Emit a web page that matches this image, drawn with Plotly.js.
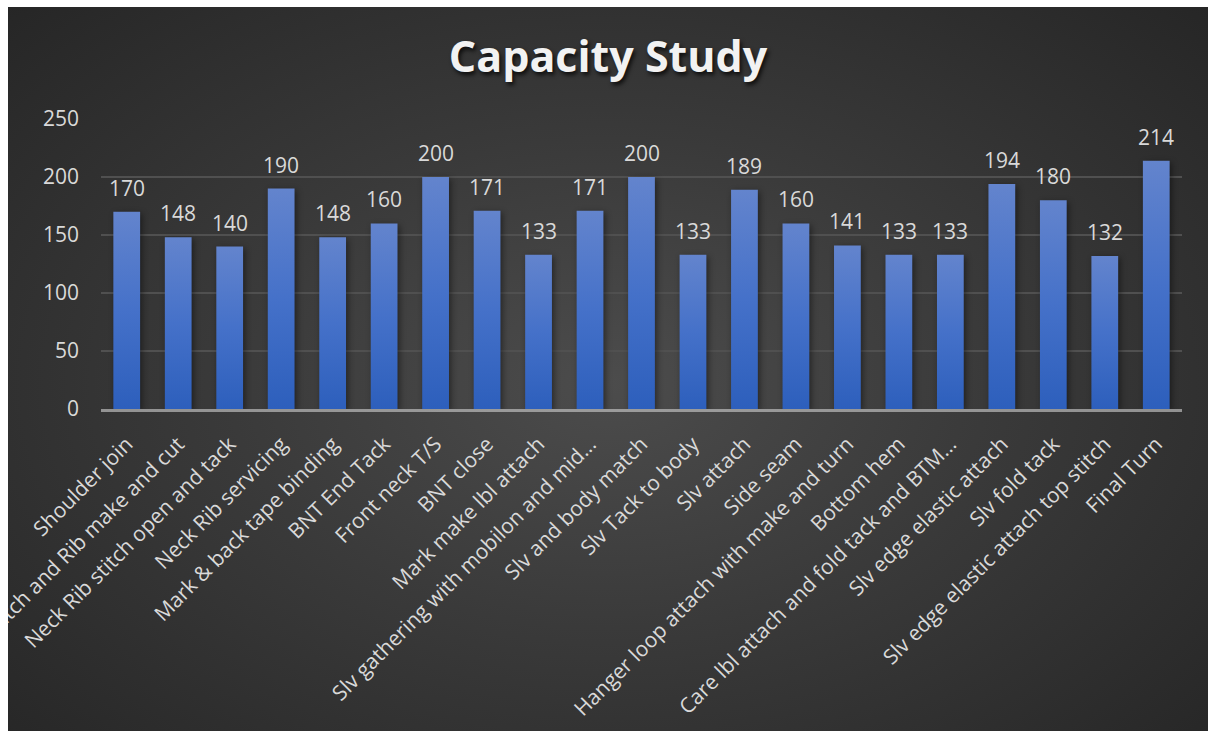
<!DOCTYPE html>
<html>
<head>
<meta charset="utf-8">
<script src="https://cdn.plot.ly/plotly-3.0.1.min.js"></script>
<style>
  html, body { margin: 0; padding: 0; background: #ffffff; width: 1209px; height: 732px; overflow: hidden; }
  #chart {
    position: absolute; left: 8px; top: 7px; width: 1200px; height: 724px;
    background: radial-gradient(ellipse 70% 75% at 50% 52%, #4c4c4c 0%, #3a3a3a 45%, #262626 100%);
  }
  /* vertical blue gradient and soft shadow on each column */
  #chart .barlayer .point path {
    fill: url(#barGrad) !important;
    filter: drop-shadow(2px 2px 3px rgba(0,0,0,0.45));
  }
  #defs { position: absolute; width: 0; height: 0; }
</style>
</head>
<body>
<svg id="defs" width="0" height="0">
  <defs>
    <linearGradient id="barGrad" x1="0" y1="0" x2="0" y2="1">
      <stop offset="0" stop-color="#6384cd"/>
      <stop offset="0.5" stop-color="#4571c9"/>
      <stop offset="1" stop-color="#2d5fbc"/>
    </linearGradient>
  </defs>
</svg>
<div id="chart"></div>
<script>
const operations = [
  "Shoulder join",
  "Neck patch and Rib make and cut",
  "Neck Rib stitch open and tack",
  "Neck Rib servicing",
  "Mark & back tape binding",
  "BNT End Tack",
  "Front neck T/S",
  "BNT close",
  "Mark make lbl attach",
  "Slv gathering with mobilon and mid...",
  "Slv and body match",
  "Slv Tack to body",
  "Slv attach",
  "Side seam",
  "Hanger loop attach with make and turn",
  "Bottom hem",
  "Care lbl attach and fold tack and BTM...",
  "Slv edge elastic attach",
  "Slv fold tack",
  "Slv edge elastic attach top stitch",
  "Final Turn"
];
const capacity = [170, 148, 140, 190, 148, 160, 200, 171, 133, 171, 200, 133, 189, 160, 141, 133, 133, 194, 180, 132, 214];
const yTicks = [0, 50, 100, 150, 200, 250];

const textColor = "#d9d9d9";
const fontFamily = "'Open Sans', 'Noto Sans', sans-serif";

const trace = {
  type: "bar",
  x: operations,
  y: capacity,
  marker: { color: "#4472c4", line: { width: 0 } },
  hoverinfo: "x+y"
};

const valueLabels = operations.map((op, i) => ({
  x: op,
  y: capacity[i],
  text: String(capacity[i]),
  showarrow: false,
  xanchor: "center",
  yanchor: "bottom",
  yshift: 8,
  font: { family: fontFamily, size: 21, color: textColor }
}));

const layout = {
  width: 1200,
  height: 724,
  paper_bgcolor: "rgba(0,0,0,0)",
  plot_bgcolor: "rgba(0,0,0,0)",
  margin: { l: 93, r: 26, t: 111.5, b: 321.5 },
  bargap: 0.48,
  showlegend: false,
  title: {
    text: "Capacity Study",
    x: 0.5,
    xanchor: "center",
    y: 0.931,
    yanchor: "middle",
    yref: "container",
    font: {
      family: fontFamily,
      size: 43,
      weight: 700,
      color: "#f2f2f2",
      shadow: "2px 3px 4px rgba(0,0,0,0.75)"
    }
  },
  xaxis: {
    type: "category",
    tickangle: -45,
    tickfont: { family: fontFamily, size: 21, color: textColor },
    showline: true,
    linecolor: "rgba(210,210,210,0.6)",
    linewidth: 2.5,
    layer: "above traces",
    showgrid: false,
    ticks: "",
    ticklabelstandoff: 12,
    automargin: false
  },
  yaxis: {
    range: [0, 250],
    tickvals: yTicks,
    ticktext: yTicks.map(String),
    tickfont: { family: fontFamily, size: 21, color: textColor },
    showgrid: true,
    gridcolor: "#505050",
    gridwidth: 1.5,
    zeroline: false,
    showline: false,
    ticks: "",
    ticklabelstandoff: 21,
    automargin: false
  },
  annotations: valueLabels
};

Plotly.newPlot("chart", [trace], layout, { displayModeBar: false, staticPlot: true });
</script>
</body>
</html>
